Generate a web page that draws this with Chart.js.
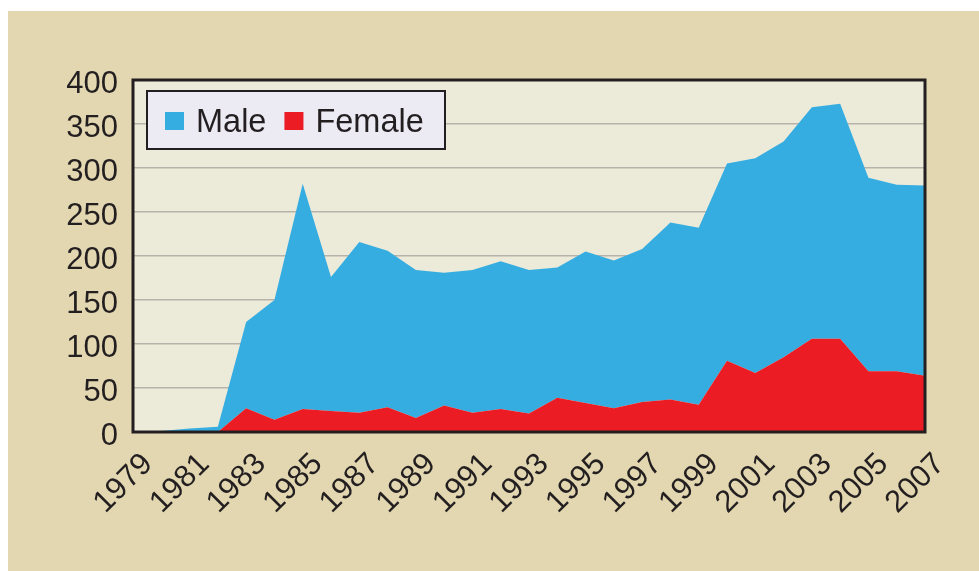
<!DOCTYPE html>
<html>
<head>
<meta charset="utf-8">
<script src="https://cdn.jsdelivr.net/npm/chart.js@4.4.0/dist/chart.umd.min.js"></script>
<style>
  html, body { margin: 0; padding: 0; background: #fff; }
  #wrap { position: relative; width: 979px; height: 571px; }
</style>
</head>
<body>
<div id="wrap"><canvas id="chart" width="979" height="571"></canvas></div>
<script>
// data (stacked: female at the bottom, male on top)
const years = [1979, 1980, 1981, 1982, 1983, 1984, 1985, 1986, 1987, 1988,
  1989, 1990, 1991, 1992, 1993, 1994, 1995, 1996, 1997, 1998,
  1999, 2000, 2001, 2002, 2003, 2004, 2005, 2006, 2007];
const female = [0, 0, 0, 0, 27, 14, 26, 24, 22, 28,
  16, 30, 22, 26, 21, 39, 33, 27, 34, 37,
  31, 81, 67, 85, 106, 106, 69, 69, 64];
const male = [0, 1, 4, 6, 98, 136, 256, 152, 194, 178,
  168, 151, 162, 168, 163, 148, 172, 168, 174, 201,
  201, 224, 244, 245, 263, 267, 220, 212, 216];
const yTicks = [0, 50, 100, 150, 200, 250, 300, 350, 400];
const legendOrder = ['Male', 'Female'];

const INK = '#231f20';
const FONT = '"Liberation Sans", Arial, Helvetica, sans-serif';

const backdrop = {
  id: 'backdrop',
  beforeDraw(chart) {
    const { ctx, chartArea: a } = chart;
    ctx.save();
    ctx.fillStyle = '#ffffff';
    ctx.fillRect(0, 0, chart.width, chart.height);
    ctx.fillStyle = '#e2d7b0';
    ctx.fillRect(8, 11, chart.width - 8, chart.height - 11);
    ctx.fillStyle = '#ecead9';
    ctx.fillRect(a.left, a.top, a.right - a.left, a.bottom - a.top);
    ctx.restore();
  },
  afterDatasetsDraw(chart) {
    // dark frame round the plot
    const { ctx, chartArea: a } = chart;
    ctx.save();
    ctx.strokeStyle = INK;
    ctx.lineWidth = 3;
    ctx.strokeRect(a.left, a.top, a.right - a.left, a.bottom - a.top);
    ctx.restore();
  },
  afterDraw(chart) {
    // legend sits inside the plot, top left
    const { ctx, chartArea: a } = chart;
    const x0 = a.left + 14, y0 = a.top + 11;
    ctx.save();
    ctx.font = '32.5px ' + FONT;
    ctx.fillStyle = '#eceaf3';
    ctx.fillRect(x0, y0, 298, 58);
    ctx.strokeStyle = INK;
    ctx.lineWidth = 2;
    ctx.strokeRect(x0, y0, 298, 58);
    let x = x0 + 18;
    legendOrder.forEach(name => {
      const ds = chart.data.datasets.find(d => d.label === name);
      ctx.fillStyle = ds.backgroundColor;
      ctx.fillRect(x, y0 + 21, 19, 18);
      x += 31;
      ctx.fillStyle = INK;
      ctx.textBaseline = 'alphabetic';
      ctx.fillText(name, x, y0 + 41);
      x += ctx.measureText(name).width + 18;
    });
    ctx.restore();
  }
};

new Chart(document.getElementById('chart'), {
  type: 'line',
  data: {
    labels: years,
    datasets: [
      {
        label: 'Female',
        data: female,
        backgroundColor: '#ec1c24',
        borderColor: 'transparent',
        borderWidth: 0,
        pointRadius: 0,
        tension: 0,
        fill: 'origin'
      },
      {
        label: 'Male',
        data: male,
        backgroundColor: '#36ade1',
        borderColor: 'transparent',
        borderWidth: 0,
        pointRadius: 0,
        tension: 0,
        fill: '-1'
      }
    ]
  },
  options: {
    responsive: false,
    animation: false,
    layout: { padding: { top: 80, right: 54, left: 0, bottom: 0 } },
    plugins: {
      legend: { display: false },
      tooltip: { enabled: false }
    },
    scales: {
      x: {
        afterFit: s => { s.height = 139; },
        grid: { display: false, drawTicks: false },
        border: { display: false },
        ticks: {
          autoSkip: false,
          maxRotation: 45,
          minRotation: 45,
          labelOffset: 15,
          padding: 14,
          color: INK,
          font: { family: FONT, size: 31 },
          callback: (v, i) => (i % 2 === 0 ? years[i] : '')
        }
      },
      y: {
        stacked: true,
        min: yTicks[0],
        max: yTicks[yTicks.length - 1],
        afterFit: s => { s.width = 133; },
        afterBuildTicks: s => { s.ticks = yTicks.map(v => ({ value: v })); },
        grid: {
          drawTicks: false,
          lineWidth: 1.5,
          color: c => (c.tick && (c.tick.value === 0 || c.tick.value === 400) ? 'transparent' : '#b7b2ab')
        },
        border: { display: false },
        ticks: {
          padding: 15,
          labelOffset: 4,
          color: INK,
          font: { family: FONT, size: 31 }
        }
      }
    }
  },
  plugins: [backdrop]
});
</script>
</body>
</html>
